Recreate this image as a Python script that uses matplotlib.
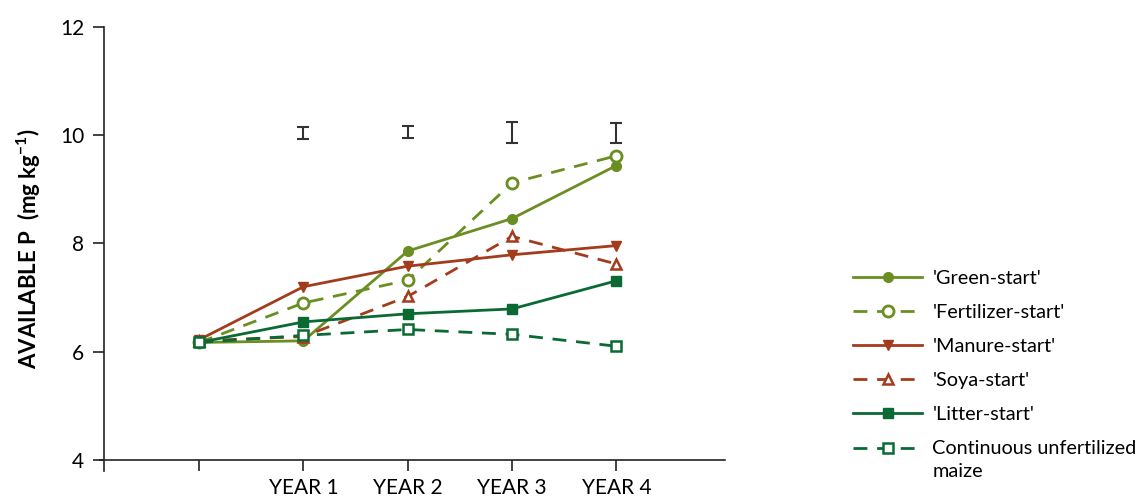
import matplotlib.pyplot as plt
import numpy as np

plt.rcParams['font.family'] = ['Lato', 'DejaVu Sans']

years = [0, 1, 2, 3, 4]
year_labels = ['', 'YEAR 1', 'YEAR 2', 'YEAR 3', 'YEAR 4']

green_start = [6.17, 6.20, 7.86, 8.46, 9.44]
fertilizer_start = [6.17, 6.90, 7.32, 9.12, 9.62]
manure_start = [6.22, 7.20, 7.58, 7.79, 7.96]
soya_start = [6.20, 6.28, 7.02, 8.13, 7.62]
litter_start = [6.17, 6.55, 6.70, 6.79, 7.31]
unfertilized = [6.17, 6.30, 6.41, 6.32, 6.10]

err_x = [1, 2, 3, 4]
err_mid = [10.04, 10.06, 10.05, 10.04]
err_half = [0.11, 0.11, 0.19, 0.19]

olive = '#6b8e23'
brown = '#a33c1c'
dkgreen = '#0b6a33'

fig = plt.figure(figsize=(11.38, 4.98), dpi=100)
ax = fig.add_axes([0.0879, 0.0548, 0.637 - 0.0879, 0.9458 - 0.0548])

dash = (0, (5, 3.5))
ax.plot(years, green_start, color=olive, lw=2, marker='o', ms=7,
        label="'Green-start'")
ax.plot(years, fertilizer_start, color=olive, lw=2, ls=dash, marker='o', ms=8,
        mfc='white', mew=2, label="'Fertilizer-start'")
ax.plot(years, manure_start, color=brown, lw=2, marker='v', ms=7,
        label="'Manure-start'")
ax.plot(years, soya_start, color=brown, lw=2, ls=dash, marker='^', ms=7,
        mfc='white', mew=1.8, label="'Soya-start'")
ax.plot(years, litter_start, color=dkgreen, lw=2, marker='s', ms=7,
        label="'Litter-start'")
ax.plot(years, unfertilized, color=dkgreen, lw=2, ls=dash, marker='s', ms=7,
        mfc='white', mew=1.8, label='Continuous unfertilized\nmaize')

ax.errorbar(err_x, err_mid, yerr=err_half, fmt='none', ecolor='#333333',
            elinewidth=1.5, capsize=4.5, capthick=1.5)

ax.set_xlim(-0.95, 5.04)
ax.set_ylim(3.8, 12)
ax.set_yticks([4, 6, 8, 10, 12])
ax.set_xticks(years)
ax.set_xticklabels(year_labels)
ax.spines['top'].set_visible(False)
ax.spines['right'].set_visible(False)
ax.spines['bottom'].set_position(('data', 4))
ax.spines['left'].set_position(('data', -0.915))
ax.spines['left'].set_bounds(3.8, 12)
for s in ('left', 'bottom'):
    ax.spines[s].set_linewidth(1.2)
    ax.spines[s].set_color('#222222')
ax.tick_params(axis='both', direction='out', length=8, width=1.2,
               labelsize=15, color='#222222')
ax.tick_params(axis='x', pad=5)
ax.tick_params(axis='y', pad=6)

ax.set_ylabel('AVAILABLE P  (mg kg$^{\\mathregular{-1}}$)', fontsize=16,
              fontweight='bold', labelpad=12)

leg = fig.legend(loc='upper left', bbox_to_anchor=(845 / 1138, 1 - 262 / 498),
                 frameon=False, fontsize=14.3, handlelength=3.5,
                 labelspacing=0.86, handletextpad=0.5, borderaxespad=0)
for t in leg.get_texts():
    t.set_linespacing(1.4)
# the wrapped entry keeps its symbol level with the first line
last = leg.legend_handles[-1]
last.set_ydata(np.asarray(last.get_ydata()) + 9)

fig.savefig('out.png', dpi=100)
